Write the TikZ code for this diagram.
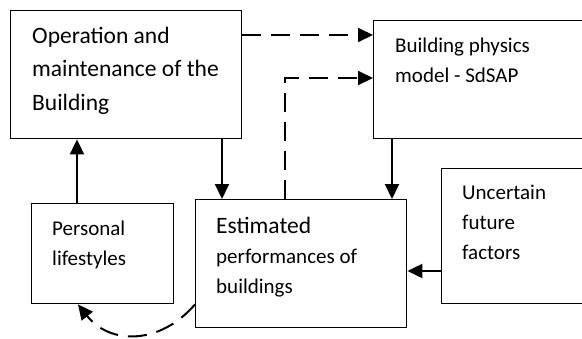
\documentclass[tikz,border=0pt]{standalone}
\usepackage{fontspec}
\setmainfont{Carlito}
\usetikzlibrary{arrows.meta}
\begin{document}
\begin{tikzpicture}[x=1pt,y=-1pt,
  box/.style={draw,line width=1.4pt,rectangle,anchor=north west,inner sep=0pt},
  txt/.style={anchor=base west,align=left,inner sep=0pt,font=\fontsize{21}{30}\selectfont},
  bigtxt/.style={txt,font=\fontsize{23.5}{33.5}\selectfont},
  conn/.style={line width=2pt,-{Triangle[length=15pt,width=14pt]}},
  dconn/.style={conn,dash pattern=on 19pt off 10pt}]
\useasboundingbox (0,0) rectangle (582,338);
\clip (0,0) rectangle (582,338);
% boxes
\node[box,minimum width=231pt,minimum height=128pt] (A) at (10,10) {};
\node[box,minimum width=240pt,minimum height=118pt] (B) at (373,20) {};
\node[box,minimum width=142pt,minimum height=100pt] (C) at (31,203) {};
\node[box,minimum width=211pt,minimum height=128pt] (D) at (195,199) {};
\node[box,minimum width=180pt,minimum height=135pt] (E) at (441,168) {};
% texts (anchored at the baseline of their last line)
\node[bigtxt] (tA) at (32,110) {Operation and\\maintenance of the\\Building};
\node[txt] (tB) at (395,82) {Building physics\\model - SdSAP};
\node[txt] (tC) at (52,265) {Personal\\lifestyles};
\node[txt] (tD) at (216,293) {{\fontsize{23.5}{30}\selectfont Estimated}\\performances of\\buildings};
\node[txt] (tE) at (462,259) {Uncertain\\future\\factors};
% connectors
\draw[dconn] ([yshift=-25pt]A.north east) -- ([yshift=-15pt]B.north west);
\draw[dconn] ([xshift=90pt]D.north west) |- ([yshift=-58pt]B.north west);
\draw[conn] ([xshift=212pt]A.south west) coordinate (a1) -- (a1 |- D.north);
\draw[conn] ([xshift=19pt]B.south west) coordinate (b1) -- (b1 |- D.north);
\draw[conn] ([xshift=46pt]C.north west) coordinate (c1) -- (c1 |- A.south);
\draw[conn] ([yshift=-103pt]E.north west) coordinate (e1) -- (D.east |- e1);
\draw[dconn] ([yshift=24pt]D.south west) .. controls (160,345) and (110,345) .. ([xshift=47pt]C.south west);
\end{tikzpicture}
\end{document}
